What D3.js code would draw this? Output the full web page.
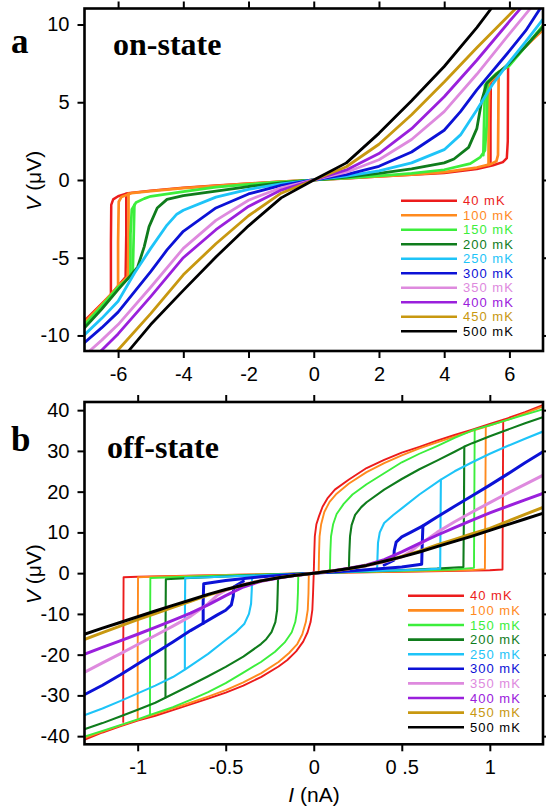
<!DOCTYPE html>
<html>
<head>
<meta charset="utf-8">
<script src="https://cdn.jsdelivr.net/npm/d3@7"></script>
<style>
  body { margin: 0; background: #fff; }
  svg { display: block; }
  .axis text { font-family: "Liberation Sans", Arial, sans-serif; font-size: 20px; fill: #000; }
  .axis line { stroke: #000; stroke-width: 2px; }
  .axis path { display: none; }
  .legend text { font-family: "Liberation Sans", Arial, sans-serif; font-size: 13px; letter-spacing: 1px; }
</style>
</head>
<body>
<div id="chart"></div>
<script>
// temperatures and colours, shared by both panels
const temps = ["40 mK", "100 mK", "150 mK", "200 mK", "250 mK", "300 mK", "350 mK", "400 mK", "450 mK", "500 mK"];
const colors = ["#ec1c1c", "#ff8a1e", "#3cee3c", "#0f7c1c", "#1ec4f8", "#0c12d6", "#de8ade", "#9a20dc", "#c89810", "#000000"];

// panel a ticks
const onTicksX = [-6, -4, -2, 0, 2, 4, 6];
const onTickLabelsX = ["-6", "-4", "-2", "0", "2", "4", "6"];
const onTicksY = [-10, -5, 0, 5, 10];
const onTickLabelsY = ["-10", "-5", "0", "5", "10"];

// panel b ticks
const offTicksX = [-1, -0.5, 0, 0.5, 1];
const offTickLabelsX = ["-1", "-0.5", "0", "0 .5", "1"];
const offTicksY = [-40, -30, -20, -10, 0, 10, 20, 30, 40];
const offTickLabelsY = ["-40", "-30", "-20", "-10", "0", "10", "20", "30", "40"];

// panel a: I (nA) vs V (uV), each temperature = list of traced branches
const onState = [
  [ // 40 mK
    [[-6.22,-7.35],[-6.22,-4.0],[-6.21,-1.6],[-6.15,-1.25],[-6.0,-1.05],[-5.7,-0.85],[-5,-0.7],[-4,-0.5],[-3,-0.35],[-2,-0.23],[-1,-0.1],[0,0],[1,0.1],[2,0.22],[3,0.33],[4,0.45],[5,0.7],[5.5,0.95],[5.8,1.15],[5.92,1.4],[5.95,2.5],[5.96,7.45]],
    [[5.42,1.0],[5.42,3.5],[5.43,6.3],[5.7,6.9],[6.0,7.45],[6.5,8.6],[7.05,9.8]],
    [[-5.75,-0.88],[-5.75,-3.5],[-5.77,-6.25],[-6.0,-6.8],[-6.22,-7.35],[-6.5,-7.95],[-7.05,-9.1]]
  ],
  [ // 100 mK
    [[-6.0,-6.85],[-6.0,-4.0],[-5.98,-1.4],[-5.9,-1.1],[-5.6,-0.85],[-5,-0.72],[-4,-0.52],[-3,-0.37],[-2,-0.24],[-1,-0.11],[0,0],[1,0.11],[2,0.23],[3,0.35],[4,0.5],[5,0.8],[5.4,1.0],[5.6,1.2],[5.65,1.6],[5.66,4],[5.67,6.95]],
    [[5.36,0.97],[5.36,3.5],[5.38,6.25],[5.67,6.9],[6.0,7.45],[6.5,8.6],[7.05,9.7]],
    [[-5.68,-0.87],[-5.68,-3.5],[-5.7,-6.2],[-6.0,-6.85],[-6.5,-8.0],[-7.05,-9.2]]
  ],
  [ // 150 mK
    [[-5.62,-6.2],[-5.62,-3.5],[-5.58,-1.9],[-5.45,-1.45],[-5.2,-1.2],[-5,-1.05],[-4,-0.75],[-3,-0.46],[-2,-0.28],[-1,-0.12],[0,0],[1,0.12],[2,0.27],[3,0.43],[4,0.66],[4.8,1.05],[5.1,1.45],[5.25,1.9],[5.3,3.5],[5.33,6.3]],
    [[5.2,1.6],[5.22,3.5],[5.25,6.1],[5.33,6.3],[5.6,6.85],[6.0,7.35],[6.5,8.6],[7.05,10.0]],
    [[-5.5,-1.6],[-5.52,-3.5],[-5.55,-6.0],[-5.62,-6.2],[-6.0,-6.9],[-6.5,-8.1],[-7.05,-9.35]]
  ],
  [ // 200 mK
    [[-7.05,-9.55],[-6.5,-8.3],[-6,-7.05],[-5.6,-6.1],[-5.4,-5.6],[-5.2,-4.3],[-5.05,-3.0],[-4.8,-1.8],[-4.5,-1.25],[-4,-1.0],[-3,-0.72],[-2,-0.42],[-1,-0.18],[0,0],[1,0.18],[2,0.42],[3,0.72],[4,1.1],[4.3,1.35],[4.75,2.1],[5.0,3.3],[5.15,5.1],[5.3,6.2],[5.6,6.8],[6,7.5],[6.5,8.6],[7.05,9.9]]
  ],
  [ // 250 mK
    [[-7.05,-10.0],[-6.5,-8.9],[-6,-7.8],[-5.5,-6.0],[-5,-4.4],[-4.5,-2.9],[-4.2,-2.2],[-4,-1.95],[-3,-1.1],[-2,-0.6],[-1,-0.25],[0,0],[1,0.25],[2,0.58],[3,1.1],[4,1.95],[4.5,2.9],[5,4.5],[5.5,6.2],[6,7.6],[6.5,8.9],[7.05,10.4]]
  ],
  [ // 300 mK
    [[-7.05,-10.5],[-6.5,-9.5],[-6,-8.5],[-5,-5.9],[-4.5,-4.5],[-4,-3.3],[-3,-1.8],[-2,-0.9],[-1,-0.35],[0,0],[1,0.35],[2,0.88],[3,1.8],[4,3.2],[4.5,4.4],[5,5.8],[6,8.3],[6.5,9.6],[6.95,11.05]]
  ],
  [ // 350 mK
    [[-6.9,-11.05],[-6.5,-10.3],[-6,-9.3],[-5,-6.9],[-4,-4.4],[-3,-2.6],[-2,-1.3],[-1,-0.5],[0,0],[1,0.5],[2,1.3],[3,2.6],[4,4.4],[5,6.8],[6,9.4],[6.65,11.05]]
  ],
  [ // 400 mK
    [[-6.55,-11.05],[-6,-9.9],[-5,-7.5],[-4,-5.0],[-3,-3.2],[-2,-1.7],[-1,-0.65],[0,0],[1,0.65],[2,1.7],[3,3.3],[4,5.35],[5,7.7],[6,10.2],[6.35,11.05]]
  ],
  [ // 450 mK
    [[-6.05,-11.05],[-5,-8.6],[-4,-6.1],[-3,-4.1],[-2,-2.3],[-1,-0.85],[0,0],[1,0.85],[2,2.3],[3,4.2],[4,6.3],[5,8.5],[6.2,11.05]]
  ],
  [ // 500 mK
    [[-5.7,-11.05],[-5,-9.3],[-4,-7.1],[-3,-4.95],[-2,-2.95],[-1,-1.15],[0,0],[1,1.1],[2,3.0],[3,5.1],[4,7.3],[5,9.8],[5.45,11.05]]
  ]
];

// panel b: upper branch, lower branch, switching branch
const offState = [
  [ // 40 mK
    [[0.0,0],[0.003,5],[0.006,9],[0.015,12],[0.03,14],[0.05,16.3],[0.08,18.5],[0.12,20.5],[0.2,23],[0.3,25.8],[0.4,27.8],[0.5,29.6],[0.6,31],[0.7,32.5],[0.8,33.9],[0.9,35.2],[1.0,36.6],[1.1,38],[1.2,39.5],[1.31,41.4]],
    [[0.0,0],[-0.004,-5],[-0.008,-9],[-0.018,-12],[-0.035,-14.5],[-0.06,-16.8],[-0.1,-19.2],[-0.15,-21.3],[-0.2,-22.9],[-0.3,-25.5],[-0.4,-27.6],[-0.5,-29.3],[-0.6,-30.8],[-0.7,-32.2],[-0.8,-33.6],[-0.9,-35],[-1.0,-36.2],[-1.1,-37.6],[-1.2,-39.1],[-1.31,-41]],
    [[-1.082,-36.5],[-1.082,-20],[-1.08,-1.0],[-1.0,-0.9],[-0.5,-0.45],[0,0],[0.5,0.35],[1.0,0.7],[1.072,0.9],[1.074,20],[1.076,37.3]]
  ],
  [ // 100 mK
    [[0.028,0],[0.03,5],[0.033,9],[0.042,12],[0.06,15],[0.09,17.5],[0.13,19.5],[0.2,22],[0.3,24.8],[0.4,27],[0.5,28.9],[0.6,30.6],[0.7,32.1],[0.8,33.5],[0.9,34.9],[0.975,35.9],[1.1,37.6],[1.2,39.2],[1.31,41]],
    [[-0.028,0],[-0.03,-5],[-0.034,-9],[-0.045,-12],[-0.065,-15],[-0.095,-17.5],[-0.14,-19.6],[-0.2,-21.8],[-0.3,-24.6],[-0.4,-26.8],[-0.5,-28.7],[-0.6,-30.3],[-0.7,-31.8],[-0.8,-33.2],[-0.9,-34.6],[-1.0,-36],[-1.1,-37.4],[-1.2,-38.9],[-1.31,-40.6]],
    [[-1.0,-36],[-1.0,-20],[-0.998,-1.0],[-0.9,-0.85],[-0.5,-0.45],[0,0],[0.5,0.4],[0.9,0.75],[0.972,1.0],[0.975,20],[0.977,35.9]]
  ],
  [ // 150 mK
    [[0.092,0.8],[0.094,5],[0.098,9],[0.11,12],[0.13,14.5],[0.17,17],[0.22,19.3],[0.3,21.8],[0.4,24.5],[0.5,27.2],[0.6,29.3],[0.7,31.2],[0.8,33.2],[0.912,35.2],[1.0,36.3],[1.1,37.6],[1.2,38.9],[1.31,40.3]],
    [[-0.088,-0.8],[-0.09,-5],[-0.094,-9],[-0.105,-12],[-0.125,-14.5],[-0.165,-17],[-0.22,-19.3],[-0.3,-21.8],[-0.4,-24.4],[-0.5,-27],[-0.6,-29.2],[-0.7,-31.1],[-0.8,-32.9],[-0.93,-34.8],[-1.0,-35.9],[-1.1,-37.3],[-1.2,-38.7],[-1.31,-40.2]],
    [[-0.93,-34.8],[-0.93,-18],[-0.928,-1.2],[-0.8,-1.0],[-0.5,-0.55],[0,0],[0.5,0.55],[0.8,0.9],[0.91,1.3],[0.912,18],[0.914,35.2]]
  ],
  [ // 200 mK
    [[0.2,1.5],[0.202,5],[0.206,9],[0.215,11.8],[0.235,14.3],[0.27,16.2],[0.3,17.4],[0.4,20.5],[0.5,23.1],[0.6,25.5],[0.7,27.6],[0.8,29.8],[0.853,31],[0.9,31.9],[1.0,33.6],[1.1,35.2],[1.2,36.8],[1.31,38.4]],
    [[-0.203,-1.5],[-0.205,-5],[-0.208,-9],[-0.218,-12],[-0.24,-14.5],[-0.27,-16.2],[-0.3,-17.4],[-0.4,-20.5],[-0.5,-23],[-0.6,-25.3],[-0.7,-27.5],[-0.84,-30.5],[-0.9,-31.8],[-1.0,-33.5],[-1.1,-35.2],[-1.2,-36.8],[-1.31,-38.4]],
    [[-0.842,-30.5],[-0.842,-15],[-0.84,-1.5],[-0.7,-1.2],[-0.4,-0.6],[0,0],[0.4,0.6],[0.7,1.1],[0.85,1.5],[0.853,15],[0.855,31]]
  ],
  [ // 250 mK
    [[0.36,1.0],[0.362,4],[0.365,7.5],[0.375,10],[0.4,12.3],[0.45,14.2],[0.5,15.9],[0.6,19.3],[0.72,22.9],[0.8,25],[0.9,27.2],[1.0,29.3],[1.1,31.2],[1.2,33],[1.31,34.9]],
    [[-0.35,-1.0],[-0.352,-4],[-0.356,-7.5],[-0.368,-10],[-0.395,-12.5],[-0.44,-14.4],[-0.5,-16.4],[-0.6,-19.8],[-0.73,-23.6],[-0.8,-25.5],[-0.9,-27.6],[-1.0,-29.5],[-1.1,-31.4],[-1.2,-33.2],[-1.31,-35]],
    [[-0.732,-23.6],[-0.732,-12],[-0.73,-1.2],[-0.6,-1.0],[-0.3,-0.5],[0,0],[0.3,0.5],[0.6,0.85],[0.718,1.1],[0.72,12],[0.722,22.9]]
  ],
  [ // 300 mK
    [[0.4,2.0],[0.455,3.2],[0.457,5.5],[0.468,7.6],[0.5,8.9],[0.55,10],[0.62,11.6],[0.7,13.8],[0.8,16.4],[0.9,19],[1.0,21.6],[1.1,24.3],[1.2,27.1],[1.31,30]],
    [[-0.4,-2.0],[-0.455,-3.4],[-0.457,-5.6],[-0.468,-7.8],[-0.5,-9.1],[-0.55,-10.3],[-0.628,-12.3],[-0.7,-14.1],[-0.8,-16.9],[-0.9,-19.6],[-1.0,-22.3],[-1.1,-25],[-1.2,-27.5],[-1.31,-30]],
    [[-0.628,-12.3],[-0.628,-7],[-0.625,-2.6],[-0.5,-1.8],[-0.3,-0.9],[0,0],[0.3,0.85],[0.5,1.5],[0.613,2.2],[0.616,7],[0.62,11.6]]
  ],
  [ // 350 mK
    [[-1.31,-24.5],[-1.2,-22],[-1.1,-19.8],[-1.0,-17.5],[-0.9,-15.3],[-0.8,-13],[-0.7,-10.6],[-0.6,-7.5],[-0.55,-5.5],[-0.5,-4.2],[-0.4,-2.8],[-0.3,-1.8],[-0.2,-1.1],[-0.1,-0.5],[0,0],[0.1,0.5],[0.2,1.1],[0.3,1.8],[0.4,2.7],[0.5,4.0],[0.55,5.3],[0.6,7.0],[0.7,10.0],[0.8,12.6],[0.9,15],[1.0,17.3],[1.1,19.6],[1.2,21.8],[1.31,24.2]]
  ],
  [ // 400 mK
    [[-1.31,-20],[-1.2,-18.2],[-1.1,-16.6],[-1.0,-15],[-0.9,-13.3],[-0.8,-11.6],[-0.7,-9.8],[-0.6,-7.8],[-0.5,-5.5],[-0.4,-3.4],[-0.3,-2.0],[-0.2,-1.2],[-0.1,-0.55],[0,0],[0.1,0.55],[0.2,1.2],[0.3,2.0],[0.4,3.3],[0.5,5.2],[0.6,7.3],[0.7,9.3],[0.8,11.2],[0.9,13],[1.0,14.8],[1.1,16.4],[1.2,18],[1.31,19.7]]
  ],
  [ // 450 mK
    [[-1.31,-16.4],[-1.2,-14.6],[-1.1,-13.0],[-1.0,-11.4],[-0.9,-9.9],[-0.8,-8.4],[-0.7,-6.9],[-0.6,-5.4],[-0.5,-4.1],[-0.4,-2.9],[-0.3,-1.9],[-0.2,-1.1],[-0.1,-0.5],[0,0],[0.1,0.5],[0.2,1.1],[0.3,1.9],[0.4,2.9],[0.5,4.1],[0.6,5.4],[0.7,6.9],[0.8,8.3],[0.9,9.7],[1.0,11.0],[1.1,12.7],[1.2,14.4],[1.31,16.3]]
  ],
  [ // 500 mK
    [[-1.31,-15.1],[-1.2,-13.5],[-1.1,-12.1],[-1.0,-10.7],[-0.9,-9.3],[-0.8,-7.9],[-0.7,-6.6],[-0.6,-5.2],[-0.5,-4.0],[-0.4,-2.9],[-0.3,-1.9],[-0.2,-1.15],[-0.1,-0.5],[0,0],[0.1,0.5],[0.2,1.15],[0.3,1.9],[0.4,2.9],[0.5,4.0],[0.6,5.2],[0.7,6.5],[0.8,7.8],[0.9,9.1],[1.0,10.5],[1.1,11.9],[1.2,13.3],[1.31,14.8]]
  ]
];

const W = 546, H = 808;
const left = 84.5, right = 543;

const svg = d3.select("#chart").append("svg")
  .attr("width", W)
  .attr("height", H);

function drawPanel(p) {
  const x = d3.scaleLinear().domain(p.xDomain).range([left, right]);
  const y = d3.scaleLinear().domain(p.yDomain).range([p.bottom, p.top]);
  const g = svg.append("g");

  g.append("clipPath").attr("id", p.id + "-clip")
    .append("rect")
    .attr("x", left).attr("y", p.top)
    .attr("width", right - left).attr("height", p.bottom - p.top);

  const line = d3.line().x((d) => x(d[0])).y((d) => y(d[1]));

  /* curves */
  const curves = g.append("g").attr("clip-path", `url(#${p.id}-clip)`);
  p.data.forEach(function (branches, i) {
    curves.selectAll(null)
      .data(branches)
      .enter()
      .append("path")
      .attr("d", line)
      .attr("fill", "none")
      .attr("stroke", colors[i])
      .attr("stroke-width", p.widths[i])
      .attr("stroke-linejoin", "round")
      .attr("stroke-linecap", "round");
  });

  /* axes, ticks outward on all four sides */
  const fx = (d, i) => p.xLabels[i];
  const fy = (d, i) => p.yLabels[i];
  g.append("g").attr("class", "axis")
    .attr("transform", `translate(0,${p.bottom})`)
    .call(d3.axisBottom(x).tickValues(p.xTicks).tickFormat(fx).tickSize(7).tickSizeOuter(0).tickPadding(9));
  g.append("g").attr("class", "axis")
    .attr("transform", `translate(0,${p.top})`)
    .call(d3.axisTop(x).tickValues(p.xTicks).tickFormat("").tickSize(7).tickSizeOuter(0));
  g.append("g").attr("class", "axis")
    .attr("transform", `translate(${left},0)`)
    .call(d3.axisLeft(y).tickValues(p.yTicks).tickFormat(fy).tickSize(7).tickSizeOuter(0).tickPadding(8));
  g.append("g").attr("class", "axis")
    .attr("transform", `translate(${right},0)`)
    .call(d3.axisRight(y).tickValues(p.yTicks).tickFormat("").tickSize(7).tickSizeOuter(0));

  /* frame */
  g.append("rect")
    .attr("x", left).attr("y", p.top)
    .attr("width", right - left).attr("height", p.bottom - p.top)
    .attr("fill", "none").attr("stroke", "#000").attr("stroke-width", 2.6);

  /* legend */
  const leg = g.append("g").attr("class", "legend");
  temps.forEach(function (t, i) {
    const ly = p.legY + i * p.legStep;
    leg.append("line")
      .attr("x1", p.legX).attr("x2", p.legX + 56)
      .attr("y1", ly).attr("y2", ly)
      .attr("stroke", colors[i]).attr("stroke-width", 2.6);
    leg.append("text")
      .attr("x", p.legX + 62).attr("y", ly + 4.6)
      .attr("fill", colors[i])
      .text(t);
  });

  /* panel letter and title */
  g.append("text")
    .attr("x", 11).attr("y", p.letterY)
    .style("font-family", "'Liberation Serif', 'Times New Roman', serif")
    .style("font-weight", "bold").style("font-size", "35px")
    .text(p.letter);
  g.append("text")
    .attr("x", p.titleX).attr("y", p.titleY)
    .style("font-family", "'Liberation Serif', 'Times New Roman', serif")
    .style("font-weight", "bold").style("font-size", "32px")
    .text(p.title);

  /* y label */
  const yl = g.append("text")
    .attr("transform", `translate(41,${(p.top + p.bottom) / 2 + 1})rotate(-90)`)
    .attr("text-anchor", "middle")
    .style("font-family", "'Liberation Sans', Arial, sans-serif")
    .style("font-size", "21px");
  yl.append("tspan").style("font-style", "italic").text("V");
  yl.append("tspan").text(" (\u03bcV)");
}

drawPanel({
  id: "on", top: 8.5, bottom: 351,
  xDomain: [-7.03, 7.03], yDomain: [-11, 11.03],
  xTicks: onTicksX, xLabels: onTickLabelsX,
  yTicks: onTicksY, yLabels: onTickLabelsY,
  data: onState,
  widths: [2.5, 2.7, 2.7, 2.8, 2.8, 2.8, 2.8, 2.8, 2.8, 2.8],
  legX: 401, legY: 200.7, legStep: 14.5,
  letter: "a", letterY: 53, title: "on-state", titleX: 113, titleY: 55
});

drawPanel({
  id: "off", top: 402, bottom: 744.3,
  xDomain: [-1.302, 1.302], yDomain: [-42, 42],
  xTicks: offTicksX, xLabels: offTickLabelsX,
  yTicks: offTicksY, yLabels: offTickLabelsY,
  data: offState,
  widths: [1.9, 1.9, 1.9, 2.1, 2.1, 3.0, 3.0, 3.0, 3.0, 3.0],
  legX: 408, legY: 595.8, legStep: 14.6,
  letter: "b", letterY: 450.5, title: "off-state", titleX: 107, titleY: 458
});

/* x label */
const xl = svg.append("text")
  .attr("x", 314).attr("y", 802)
  .attr("text-anchor", "middle")
  .style("font-family", "'Liberation Sans', Arial, sans-serif")
  .style("font-size", "21px");
xl.append("tspan").style("font-style", "italic").text("I");
xl.append("tspan").text(" (nA)");
</script>
</body>
</html>
